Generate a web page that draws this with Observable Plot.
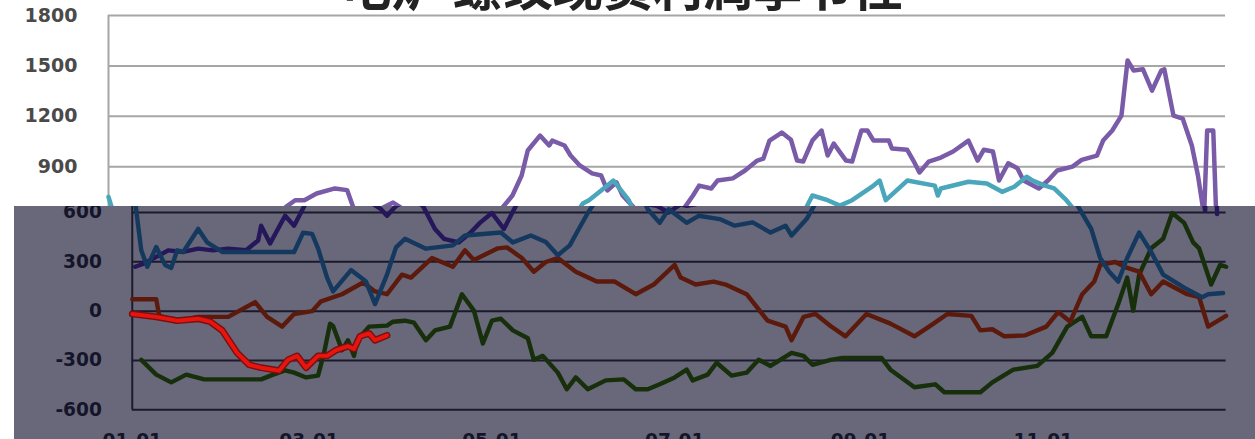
<!DOCTYPE html>
<html><head><meta charset="utf-8">
<script src="https://cdn.jsdelivr.net/npm/d3@7"></script>
<script src="https://cdn.jsdelivr.net/npm/@observablehq/plot@0.6"></script>
<style>
html,body{margin:0;padding:0;background:#fff;overflow:hidden;}
#wrap{position:relative;width:1255px;height:439px;overflow:hidden;background:#fff;}
#upper{position:absolute;left:0;top:0;}
#title{position:absolute;left:0;top:-41px;width:1244px;text-align:center;font-family:"Noto Sans CJK SC";font-weight:bold;font-size:50px;line-height:50px;color:#222;white-space:nowrap;}
#lowerBox{position:absolute;left:14px;top:206px;width:1241px;height:233px;overflow:hidden;background:#68687a;}
#lower{position:absolute;left:12px;top:-206px;}
</style></head><body>
<div id="wrap"><div id="upper"></div><div id="title">电炉 螺纹现货利润季节性</div><div id="lowerBox"><div id="lower"></div></div></div>
<script>
// x = day of year, y = profit (yuan/ton)
const tickDays = [0, 59, 120, 181, 243, 304];
const tickLabels = ["01-01", "03-01", "05-01", "07-01", "09-01", "11-01"];
const yTicks = [-600, -300, 0, 300, 600, 900, 1200, 1500, 1800];

const seriesPurple = [[1,270],[4,290],[8,330],[12,370],[17,360],[22,380],[27,370],[32,380],[38,370],[42,430],[43,520],[46,412],[51,580],[54,520],[58,660],[61,700],[64,700],[68,740],[74,770],[78,760],[80,656],[83,620],[85,580],[88,640],[93,686],[97,640],[101,500],[104,440],[109,418],[113,480],[116,537],[120,597],[124,500],[128,640],[132,728],[135,847],[137,996],[141,1085],[144,1026],[145,1055],[149,1026],[151,966],[154,907],[158,860],[161,847],[163,758],[166,806],[168,728],[172,650],[175,640],[179,600],[183,650],[185,640],[188,650],[191,728],[193,787],[197,770],[199,817],[204,830],[208,877],[212,936],[214,948],[216,1055],[220,1103],[223,1060],[225,936],[227,930],[230,1055],[233,1115],[235,966],[237,1037],[241,936],[243,930],[246,1115],[248,1115],[250,1055],[255,1055],[256,1008],[261,1000],[263,936],[265,865],[268,930],[272,954],[276,990],[281,1055],[284,936],[286,1000],[289,990],[291,817],[294,920],[297,890],[299,817],[304,770],[307,817],[310,877],[315,900],[318,940],[323,966],[325,1055],[328,1115],[331,1204],[333,1532],[335,1472],[338,1480],[341,1353],[344,1472],[345,1480],[348,1204],[351,1186],[354,1026],[356,847],[358,610],[359,1115],[361,1115],[362,590]];

const seriesTeal = [[0,720],[1,660],[3,370],[5,270],[8,390],[11,280],[13,263],[15,370],[17,360],[22,500],[25,418],[30,360],[54,360],[57,477],[60,470],[62,382],[65,204],[67,120],[73,250],[78,180],[81,43],[85,222],[88,388],[91,440],[98,380],[107,400],[111,460],[123,478],[127,418],[133,460],[138,420],[142,340],[146,400],[149,500],[152,597],[155,680],[157,700],[161,758],[165,817],[170,700],[172,620],[176,537],[179,620],[185,537],[189,580],[196,560],[201,520],[207,540],[213,478],[218,520],[220,460],[225,560],[228,656],[230,728],[235,700],[239,668],[243,700],[250,787],[252,817],[254,700],[261,817],[270,787],[271,728],[272,770],[281,810],[287,800],[292,750],[296,780],[300,840],[302,817],[306,787],[309,770],[313,700],[315,656],[320,500],[323,323],[326,240],[329,180],[332,323],[336,478],[340,360],[344,222],[351,143],[357,85],[359,103],[364,110]];

const seriesBrown = [[0,72],[8,72],[9,-29],[15,-64],[22,-35],[32,-35],[41,55],[45,-35],[50,-94],[54,-17],[60,0],[63,60],[70,103],[77,174],[81,120],[85,103],[90,222],[93,204],[100,323],[107,270],[111,370],[114,311],[122,382],[125,388],[130,323],[134,240],[138,299],[142,323],[148,240],[155,180],[161,180],[168,103],[174,162],[181,281],[183,204],[188,162],[194,180],[198,162],[205,103],[212,-58],[218,-94],[220,-177],[224,-35],[228,-17],[233,-90],[238,-153],[245,-17],[253,-76],[261,-153],[267,-80],[272,-17],[280,-29],[283,-117],[287,-110],[291,-153],[298,-147],[305,-94],[309,-5],[313,-64],[317,103],[321,180],[323,281],[328,299],[332,263],[336,240],[340,103],[344,180],[352,103],[356,85],[359,-94],[365,-29]];

const seriesGreen = [[3,-296],[8,-386],[13,-433],[18,-386],[24,-415],[43,-415],[47,-386],[51,-360],[54,-374],[58,-403],[62,-392],[64,-254],[66,-76],[67,-90],[70,-237],[72,-177],[74,-272],[75,-177],[79,-94],[85,-88],[87,-64],[91,-58],[94,-70],[98,-177],[101,-117],[106,-94],[110,103],[114,3],[117,-197],[120,-58],[123,-46],[127,-117],[132,-165],[134,-296],[137,-272],[142,-374],[145,-475],[148,-403],[152,-475],[158,-421],[164,-415],[168,-475],[172,-475],[176,-445],[181,-403],[185,-356],[187,-421],[192,-386],[195,-314],[200,-392],[205,-374],[209,-296],[213,-333],[220,-254],[224,-272],[227,-326],[233,-296],[237,-284],[250,-284],[253,-356],[261,-463],[268,-445],[271,-493],[283,-493],[287,-433],[294,-356],[302,-333],[307,-254],[312,-94],[317,-35],[320,-153],[325,-153],[329,43],[332,204],[334,3],[336,222],[340,382],[344,440],[347,597],[351,537],[354,418],[356,382],[360,162],[363,281],[365,270]];

const seriesRed = [[0,-17],[8,-35],[15,-58],[22,-46],[26,-64],[30,-117],[35,-254],[39,-326],[43,-344],[49,-362],[52,-296],[55,-272],[58,-344],[62,-272],[65,-272],[68,-237],[72,-213],[74,-230],[76,-153],[79,-135],[81,-177],[85,-147]];

const rows = a => a.map(([day, value]) => ({day, value}));

const themes = {
  light: {text:"#4a4a4a", grid:"#a6a6a6", purple:"#7a5ba8", teal:"#4aa6ba", brown:"#b84a2a", green:"#3a6a22"},
  dark:  {text:"#15152a", grid:"#1a1a2c", purple:"#26175a", teal:"#15395e", brown:"#5c1a0c", green:"#17300b"}
};

function chart(t) {
  return Plot.plot({
    width: 1255, height: 439,
    marginLeft: 108, marginRight: 30, marginTop: 15, marginBottom: 21,
    style: {background: "transparent", fontFamily: "DejaVu Sans", fontSize: "19px", fontWeight: "bold", color: t.text, overflow: "visible"},
    x: {domain: [0, 365], ticks: tickDays, tickFormat: d => tickLabels[tickDays.indexOf(d)], tickSize: 0, tickPadding: 24, label: null},
    y: {domain: [-600, 1800], ticks: yTicks, tickFormat: d => String(d), tickSize: 0, tickPadding: 31, label: null},
    marks: [
      Plot.ruleY(yTicks, {stroke: t.grid, strokeWidth: 2}),
      Plot.ruleX([0], {stroke: t.grid, strokeWidth: 2}),
      Plot.line(rows(seriesGreen), {x: "day", y: "value", stroke: t.green, strokeWidth: 4.5}),
      Plot.line(rows(seriesBrown), {x: "day", y: "value", stroke: t.brown, strokeWidth: 4.5}),
      Plot.line(rows(seriesPurple), {x: "day", y: "value", stroke: t.purple, strokeWidth: 4.5}),
      Plot.line(rows(seriesTeal), {x: "day", y: "value", stroke: t.teal, strokeWidth: 4.5}),
      Plot.line(rows(seriesRed), {x: "day", y: "value", stroke: "#7a1010", strokeWidth: 7}),
      Plot.line(rows(seriesRed), {x: "day", y: "value", stroke: "#e8140e", strokeWidth: 4})
    ]
  });
}

document.getElementById("upper").appendChild(chart(themes.light));
document.getElementById("lower").appendChild(chart(themes.dark));
</script>
</body></html>
